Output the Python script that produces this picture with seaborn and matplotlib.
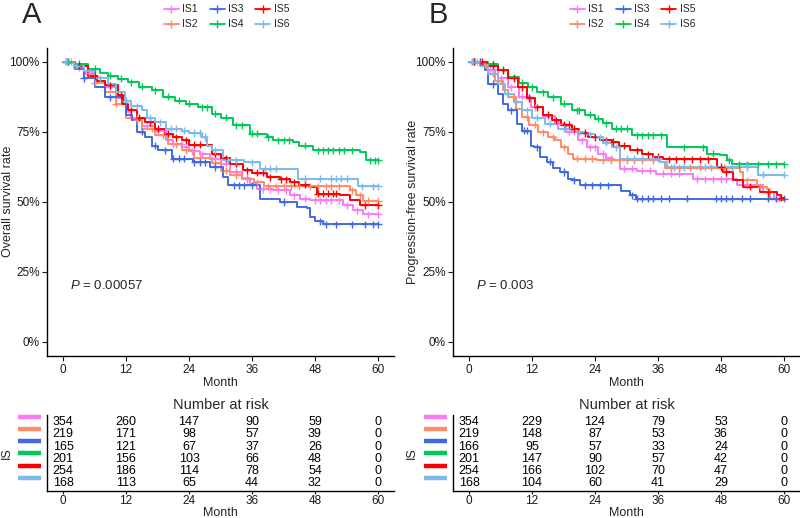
import numpy as np
import pandas as pd
import seaborn as sns
import matplotlib.pyplot as plt
from matplotlib.lines import Line2D
import matplotlib.transforms as mtransforms

sns.set_style("ticks")
plt.rcParams['font.family'] = ['Liberation Sans', 'DejaVu Sans']
plt.rcParams['mathtext.fontset'] = 'custom'
plt.rcParams['mathtext.it'] = 'Liberation Sans:italic'
plt.rcParams['mathtext.rm'] = 'Liberation Sans'

groups = ['IS1', 'IS2', 'IS3', 'IS4', 'IS5', 'IS6']
colors = ['#F97BF5', '#FF8C69', '#4169E1', '#00C957', '#FF0000', '#7EBAEA']
risk_times = [0, 12, 24, 36, 48, 60]

# ---- Overall survival (panel A): step knots (month, survival %) ----
os_is1 = [(0, 100), (2, 98), (4, 96), (6, 93), (8, 91), (10, 87), (12, 82), (13, 80), (15, 77),
          (17.5, 75.4), (19.7, 72), (21, 70.5), (22.6, 69.5), (24, 68), (26, 67), (28, 65.4),
          (30, 63.6), (31.8, 60.6), (34, 58.5), (35.6, 56.5), (37, 54.5), (40, 54.1), (43.2, 52.3),
          (45.1, 51.1), (47, 50.5), (53.4, 48.8), (55.3, 47), (57.2, 45.6)]
os_is2 = [(0, 100), (2, 98), (4, 95.5), (6, 92.5), (8, 89.1), (10, 85), (12, 80), (13.1, 79),
          (15, 76), (17.5, 73.7), (20, 70.5), (22.6, 68.3), (25, 65.5), (28.3, 63.7), (30, 61),
          (31.8, 59.4), (34, 58), (36.3, 57), (38.2, 55.5), (54.7, 54.1), (55.9, 52.3), (57.2, 50.3)]
os_is3 = [(0, 100), (2.2, 97.4), (4, 94), (6.1, 90.9), (8, 87.3), (11.2, 84.9), (12, 81), (13.1, 79),
          (14, 75), (15.6, 73), (17, 70), (18.1, 68.3), (20.7, 65.4), (24.8, 64), (28, 62.4),
          (30.5, 58.8), (31.5, 55.9), (37.5, 51.1), (41.3, 49.9), (44.5, 48.1), (46.4, 47.6),
          (47, 44.6), (48, 43), (49.6, 42)]
os_is4 = [(0, 100), (2, 99.2), (4.8, 97.4), (7, 96), (8.6, 95), (10.5, 93.8), (12.4, 92.6),
          (14.5, 91), (16.9, 89.7), (19, 87.5), (21.3, 86.1), (23.5, 85), (25.8, 83.7), (28.3, 81.4),
          (30, 80), (32.4, 77.2), (35.6, 74.3), (38.8, 73), (40, 72), (43.8, 71.3), (45, 70),
          (47.6, 68.3), (56.6, 67.7), (57.8, 64.8)]
os_is5 = [(0, 100), (2, 98.5), (4.8, 95), (6.5, 93), (8, 91.5), (10.5, 87.9), (11.5, 85),
          (12.4, 82.6), (14, 80), (15.6, 78.4), (17.5, 76), (19.4, 74.3), (21, 73), (22.6, 71.9),
          (24, 70.3), (26.4, 70.1), (28.3, 67.2), (30, 65.5), (31.8, 63.6), (34.3, 61.2), (36, 60.4),
          (38.8, 58.8), (41.3, 58), (43.2, 57), (45, 56), (47, 55.3), (48.3, 52.9), (52.8, 52.3),
          (54.7, 50.5), (56.6, 48.8)]
os_is6 = [(0, 100), (2, 98.5), (4, 96.5), (6, 94), (8.6, 92), (10, 89), (11.8, 86.1), (13, 84),
          (15, 82.6), (16, 80), (17.5, 78.4), (19.7, 76), (22.6, 75.4), (24, 74.5), (26.4, 73.1),
          (27.4, 70), (28.3, 68.3), (30.5, 64.8), (34.4, 64), (37.5, 61.8), (44.8, 58.2), (56.2, 55.5)]

# ---- Progression-free survival (panel B) ----
pfs_is1 = [(0, 100), (2.5, 99), (3.7, 96.8), (5.5, 94), (7.5, 90.9), (9.5, 87.5), (11.9, 83.7),
           (14, 80.5), (16.4, 77.8), (18.5, 75), (20.8, 71.9), (22.5, 69.5), (24.6, 67.2), (26, 65.5),
           (27.2, 64.8), (28.8, 61.8), (32, 61), (35.7, 60), (42.7, 58), (51, 55.9), (56, 53.4),
           (58, 51.1), (59.5, 50.5)]
pfs_is2 = [(0, 100), (2.5, 99), (3.5, 97), (5, 93.2), (6.5, 90), (7.5, 87.3), (9, 83), (10, 80.2),
           (11.5, 77.5), (13.2, 74.8), (15, 73), (16.4, 71.9), (17.5, 69.5), (18.9, 67.2),
           (19.9, 65.4), (24.3, 64.8), (36.4, 64.2), (37.3, 62.2), (51.6, 60.6), (52.2, 57.7),
           (54.8, 55.3), (56.7, 54.7), (57.3, 51.1), (59, 50.5)]
pfs_is3 = [(0, 100), (2.5, 98.5), (3, 96.8), (3.7, 92), (5.6, 88.4), (6.5, 85), (7.5, 82.6),
           (9.1, 77.8), (10, 75.4), (11.9, 70), (12.3, 69.5), (13.5, 66), (14.8, 64.2), (16, 62),
           (17.3, 60.6), (18.9, 58), (19.9, 57.7), (21.1, 55.9), (29, 54), (30.7, 52.3), (31.9, 51.1)]
pfs_is4 = [(0, 100), (3.7, 99.2), (5.5, 97), (7.5, 94.4), (9.5, 92.5), (11.3, 90.9), (13, 89),
           (15.1, 87.3), (17.5, 85), (19.6, 82.6), (22, 81), (24, 79.6), (25.5, 78), (27.2, 76),
           (31, 73.7), (37.7, 69.5), (45.3, 67.2), (47.8, 66.6), (49.1, 64.8), (50, 63.4)]
pfs_is5 = [(0, 100), (3.5, 98.5), (5.6, 96.8), (7.5, 94), (9.4, 90.9), (11, 87), (12.6, 83.7),
           (14, 81), (15.8, 79), (17.5, 77.5), (19.6, 76), (21, 74.5), (22.7, 73), (25, 72),
           (27.2, 71.3), (28.5, 70), (30.7, 68.3), (33, 67), (35.1, 66), (37, 65.1), (47.2, 62.4),
           (48.4, 60.6), (50.3, 57.7), (52.2, 55.3), (55.4, 53.4), (58.6, 52.3), (59.5, 51.5)]
pfs_is6 = [(0, 100), (2, 98.5), (3.7, 95.6), (5.5, 92), (6.9, 88.4), (8.5, 85.5), (10, 82.6),
           (12, 80), (14.5, 77.8), (17, 76), (19.6, 74.8), (22, 74), (24, 73), (25.5, 71),
           (27.2, 69.5), (28.8, 65.4), (36.4, 64.2), (37.7, 62.4), (55.1, 59.6)]

# censoring times (months), read approximately
os_cens = [
    [1, 3, 5, 9, 14, 16, 18, 19.5, 21, 22.5, 24.5, 26.5, 29, 31, 33, 35, 38, 39.5, 41, 42.5, 44, 46, 48, 49, 50, 51, 52.5, 54, 56, 58, 60],
    [1.5, 6, 10, 14, 17, 19, 21.5, 23.5, 26, 29, 31, 33, 35, 37, 39, 40.5, 42, 43.5, 45, 47, 48.5, 50, 51, 52.5, 55, 56.5, 58, 60],
    [1, 4, 9, 15, 17.5, 19.5, 21, 22, 23, 25, 26, 27, 29, 32.5, 33.5, 34.5, 36, 42, 49, 50, 52, 55, 57.5, 59, 60],
    [1, 3, 6, 9, 11, 13, 15, 17.5, 20, 22, 24, 26.5, 27.5, 29, 31, 33, 34, 36, 37, 39, 41, 42, 43, 46, 48.5, 49.5, 50.5, 51.5, 52.5, 53.5, 55, 58.5, 59.5, 60],
    [0.5, 3, 6, 9, 11, 13, 14.5, 16.5, 18, 20, 21.5, 23.5, 25, 26, 29, 31, 33, 35, 37, 38, 39.5, 41.5, 42.5, 44, 46, 48.5, 49.5, 50.5, 51.5, 52, 57.5, 60],
    [0.5, 2.5, 7, 12, 14, 16.5, 18.5, 20.5, 21.5, 23, 25, 26, 27, 29, 31.5, 33, 36, 38.5, 39.5, 40.5, 46, 49, 51, 52, 53, 54, 57, 59, 60],
]
pfs_cens = [
    [1, 2, 4, 6, 8, 10, 12.5, 15, 17, 19, 20, 21.5, 23, 24, 25.5, 27, 29.5, 31, 33, 34.5, 37, 38.5, 40, 43.5, 45, 46.5, 48, 49, 53, 57, 59],
    [1, 3, 6, 8.5, 11, 12.5, 14, 16, 18, 20.5, 22, 23.5, 25.5, 27, 28.5, 30, 31.5, 33, 35, 38.5, 40, 42, 44, 46, 48.5, 50, 53, 55.5, 58.5],
    [0.5, 2, 4.5, 8, 10.5, 11, 13, 15.5, 18, 20, 22, 23.5, 25, 26.5, 31, 32, 33, 34, 35, 36.5, 38, 41.5, 47, 48, 49, 50, 52, 53.5, 57, 58.5, 60],
    [1, 4.5, 6.5, 8.5, 10, 12, 14, 16, 18, 20.5, 21, 23, 24.5, 26, 28, 29, 30, 32, 33, 34, 35, 36.5, 41, 44.5, 46.5, 49.5, 51.5, 53, 55, 57, 58.5, 60],
    [1, 2.5, 4.5, 6.5, 8.5, 10, 11.5, 13, 15, 16.5, 18, 19, 20, 22, 24, 26, 27.5, 29.5, 32, 34, 36, 38, 39.5, 41, 42.5, 44, 45.5, 48, 49, 53.5, 57, 59.5],
    [0.5, 1.5, 4.5, 7.5, 9, 11, 13, 15.5, 18, 21, 23, 25, 26, 28, 30, 31.5, 33, 35, 36, 39, 41, 45, 50, 53, 56, 60],
]

# ---- number at risk ----
os_risk = [[354, 260, 147, 90, 59, 0],
           [219, 171, 98, 57, 39, 0],
           [165, 121, 67, 37, 26, 0],
           [201, 156, 103, 66, 48, 0],
           [254, 186, 114, 78, 54, 0],
           [168, 113, 65, 44, 32, 0]]
pfs_risk = [[354, 229, 124, 79, 53, 0],
            [219, 148, 87, 53, 36, 0],
            [166, 95, 57, 33, 24, 0],
            [201, 147, 90, 57, 42, 0],
            [254, 166, 102, 70, 47, 0],
            [168, 104, 60, 41, 29, 0]]


def curve_frames(knots_list, cens_list):
    rows, crows = [], []
    for g, knots, cens in zip(groups, knots_list, cens_list):
        t = [k[0] for k in knots] + [60]
        s = [k[1] for k in knots] + [knots[-1][1]]
        rows += [(g, ti, si) for ti, si in zip(t, s)]
        t_arr = np.array(t)
        s_arr = np.array(s)
        for c in cens:
            idx = np.searchsorted(t_arr, c, side='right') - 1
            crows.append((g, c, s_arr[idx]))
    return (pd.DataFrame(rows, columns=['group', 'time', 'surv']),
            pd.DataFrame(crows, columns=['group', 'time', 'surv']))


W, H = 800, 518
fig = plt.figure(figsize=(W / 100, H / 100), dpi=100)
tick_col = '#1a1a1a'


def px_axes(x0, x1, y0, y1):
    return fig.add_axes([x0 / W, 1 - y1 / H, (x1 - x0) / W, (y1 - y0) / H])


def style_axis(ax, tick_len=3.5, pad=2):
    sns.despine(ax=ax)
    for sp in ['left', 'bottom']:
        ax.spines[sp].set_linewidth(1.0)
        ax.spines[sp].set_color('black')
    ax.tick_params(axis='both', labelsize=8.5, colors=tick_col, length=tick_len, width=0.8, pad=pad)


panels = [
    dict(knots=[os_is1, os_is2, os_is3, os_is4, os_is5, os_is6], cens=os_cens, risk=os_risk,
         x0=47.25, ylabel='Overall survival rate', ylab_x=14, p='0.00057', letter='A'),
    dict(knots=[pfs_is1, pfs_is2, pfs_is3, pfs_is4, pfs_is5, pfs_is6], cens=pfs_cens, risk=pfs_risk,
         x0=453.25, ylabel='Progression-free survival rate', ylab_x=419, p='0.003', letter='B'),
]

for pn in panels:
    x0 = pn['x0']
    x1 = x0 + 346.5
    df, cdf = curve_frames(pn['knots'], pn['cens'])

    ax = px_axes(x0, x1, 47.5, 356)
    sns.lineplot(data=df, x='time', y='surv', hue='group', hue_order=groups, palette=colors,
                 estimator=None, sort=False, drawstyle='steps-post', lw=1.4, legend=False, ax=ax)
    sns.scatterplot(data=cdf, x='time', y='surv', hue='group', hue_order=groups, palette=colors,
                    marker='+', s=26, linewidth=1.0, legend=False, ax=ax, zorder=3)
    ax.set_xlim(-3, 63)
    ax.set_ylim(-5, 105)
    ax.set_xticks(risk_times)
    ax.set_yticks([0, 25, 50, 75, 100])
    ax.set_yticklabels(['0%', '25%', '50%', '75%', '100%'])
    ax.set_xlabel('Month', fontsize=9, labelpad=1)
    ax.set_ylabel(pn['ylabel'], fontsize=9)
    ax.yaxis.set_label_coords((pn['ylab_x'] - x0) / 346.5, 0.5)
    style_axis(ax)
    ax.text(1.3, 20.3, r'$\mathit{P}$ = ' + pn['p'], fontsize=9.5, va='center', ha='left')

    handles = [Line2D([0], [0], color=c, lw=1.3, marker='+', markersize=6, markeredgewidth=1.0)
               for c in colors]
    trans = mtransforms.blended_transform_factory(ax.transAxes, fig.transFigure)
    ax.legend(handles, groups, loc='upper center', bbox_to_anchor=(0.517, 1.0), bbox_transform=trans,
              ncol=3, frameon=False, fontsize=7.5, handlelength=1.45, handletextpad=0.3,
              columnspacing=1.15, labelspacing=0.5, borderaxespad=0)

    fig.text((x0 - 25) / W, 1 - 1 / H, pn['letter'], fontsize=21, va='top', ha='left')

    # risk table
    tax = px_axes(x0, x1, 414.9, 490.5)
    for i, g in enumerate(groups):
        for t, n in zip(risk_times, pn['risk'][i]):
            tax.text(t, i + 1, str(n), ha='center', va='center', fontsize=9, color='black')
        tax.plot([-0.085, -0.018], [i + 0.55, i + 0.55], color=colors[i], lw=3.2,
                 transform=mtransforms.blended_transform_factory(tax.transAxes, tax.transData),
                 clip_on=False, solid_capstyle='butt')
    tax.set_xlim(-3, 63)
    tax.set_ylim(6.6, 0.4)
    tax.set_xticks(risk_times)
    tax.set_yticks([])
    tax.set_xlabel('Month', fontsize=9, labelpad=0)
    tax.set_ylabel('IS', fontsize=9)
    tax.yaxis.set_label_coords((pn['ylab_x'] - 1 - x0) / 346.5, 0.5)
    tax.set_title('Number at risk', fontsize=10.5, pad=4)
    style_axis(tax, tick_len=2.5, pad=1)

fig.savefig('out.png', dpi=100)
